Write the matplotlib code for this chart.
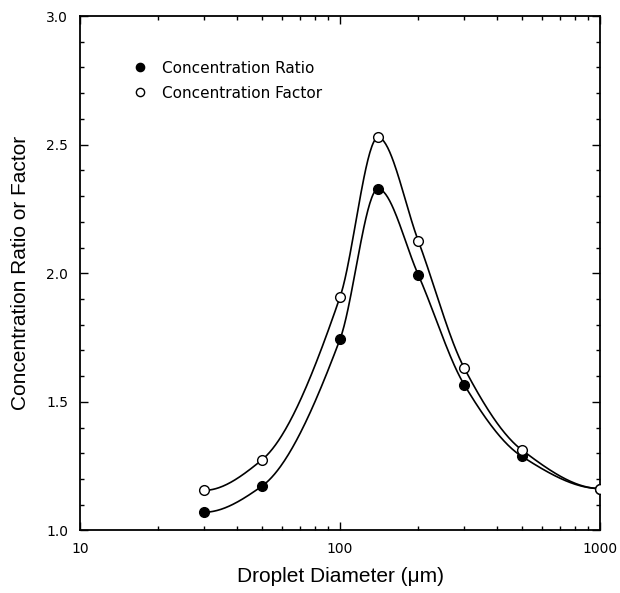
import numpy as np
import matplotlib
matplotlib.use('Agg')
import matplotlib.pyplot as plt
from matplotlib.ticker import MultipleLocator, FixedLocator, NullFormatter

# droplet diameter (um) and the two measured series
diameter = [30, 50, 100, 140, 200, 300, 500, 1000]
conc_ratio = [1.071, 1.172, 1.744, 2.328, 1.993, 1.567, 1.288, 1.163]
conc_factor = [1.156, 1.274, 1.908, 2.528, 2.125, 1.632, 1.313, 1.163]

x_ticks = [10, 100, 1000]
x_ticklabels = ['10', '100', '1000']
y_ticks = [1.0, 1.5, 2.0, 2.5, 3.0]


def pchip_curve(x, y, n=400):
    # monotone cubic through the points, in log10(x)
    x = np.log10(np.asarray(x, float))
    y = np.asarray(y, float)
    h = np.diff(x)
    d = np.diff(y) / h
    k = len(x)
    m = np.zeros(k)
    for i in range(1, k - 1):
        if d[i - 1] * d[i] > 0:
            w1 = 2 * h[i] + h[i - 1]
            w2 = h[i] + 2 * h[i - 1]
            m[i] = (w1 + w2) / (w1 / d[i - 1] + w2 / d[i])

    def end_slope(h0, h1, d0, d1):
        s = ((2 * h0 + h1) * d0 - h0 * d1) / (h0 + h1)
        if np.sign(s) != np.sign(d0):
            return 0.0
        if np.sign(d0) != np.sign(d1) and abs(s) > abs(3 * d0):
            return 3 * d0
        return s

    m[0] = end_slope(h[0], h[1], d[0], d[1])
    m[-1] = end_slope(h[-1], h[-2], d[-1], d[-2])

    xs = np.linspace(x[0], x[-1], n)
    ys = np.empty_like(xs)
    for j, xv in enumerate(xs):
        i = min(np.searchsorted(x, xv, side='right') - 1, k - 2)
        t = (xv - x[i]) / h[i]
        h00 = 2 * t ** 3 - 3 * t ** 2 + 1
        h10 = t ** 3 - 2 * t ** 2 + t
        h01 = -2 * t ** 3 + 3 * t ** 2
        h11 = t ** 3 - t ** 2
        ys[j] = h00 * y[i] + h10 * h[i] * m[i] + h01 * y[i + 1] + h11 * h[i] * m[i + 1]
    return 10 ** xs, ys


fig = plt.figure(figsize=(6.2, 5.93), dpi=100)
ax = fig.add_axes([0.129, 0.1054, 0.839, 0.8676])

for yy in (conc_ratio, conc_factor):
    sx, sy = pchip_curve(diameter, yy)
    ax.plot(sx, sy, color='black', lw=1.2, zorder=2)

ax.plot(diameter, conc_ratio, 'o', ms=7, mfc='black', mec='black', mew=1.0,
        ls='none', label='Concentration Ratio', zorder=3)
ax.plot(diameter, conc_factor, 'o', ms=7, mfc='white', mec='black', mew=1.0,
        ls='none', label='Concentration Factor', zorder=3)

ax.set_xscale('log')
ax.set_xlim(10, 1000)
ax.set_ylim(1.0, 3.0)
ax.set_xticks(x_ticks)
ax.set_xticklabels(x_ticklabels)
ax.xaxis.set_minor_locator(FixedLocator([m * d for d in (10, 100) for m in range(2, 10)]))
ax.xaxis.set_minor_formatter(NullFormatter())
ax.set_yticks(y_ticks)
ax.set_yticklabels([f'{v:.1f}' for v in y_ticks])
ax.yaxis.set_minor_locator(MultipleLocator(0.1))

ax.tick_params(which='both', direction='in', top=True, right=True,
               labelsize=10, pad=8.5, width=1.0)
ax.tick_params(which='major', length=6)
ax.tick_params(which='minor', length=3)
for lab in ax.get_xticklabels() + ax.get_yticklabels():
    lab.set_family('DejaVu Sans')
for s in ax.spines.values():
    s.set_linewidth(1.3)

ax.set_xlabel('Droplet Diameter (\u03bcm)', family='Liberation Sans', fontsize=15, labelpad=8)
ax.set_ylabel('Concentration Ratio or Factor', family='Liberation Sans', fontsize=15, labelpad=12)

leg = ax.legend(loc='upper left', bbox_to_anchor=(0.075, 0.94), frameon=False,
                prop={'family': 'DejaVu Sans', 'size': 11}, handlelength=1.0,
                handletextpad=0.9, labelspacing=0.65, markerscale=0.85)

fig.savefig('out.png', dpi=100)
